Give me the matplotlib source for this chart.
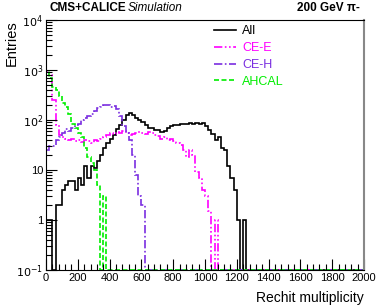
import matplotlib
matplotlib.use("Agg")
import matplotlib.pyplot as plt
import numpy as np
from matplotlib.ticker import FixedLocator, MultipleLocator, NullFormatter

plt.rcParams['font.family'] = ['Liberation Sans', 'DejaVu Sans']

# 100 bins of width 20 between 0 and 2000
edges = np.arange(0, 2001, 20)

all_hits = [1, 1, 0, 2, 2, 4, 5, 6, 6, 4,
            7, 5, 12, 7, 12, 11, 15, 20, 28, 35,
            42, 50, 65, 80, 100, 125, 135, 125, 110, 100,
            90, 80, 70, 68, 63, 62, 58, 60, 70, 75,
            78, 80, 82, 85, 82, 88, 85, 88, 85, 88,
            75, 62, 52, 40, 45, 27, 25, 12, 7, 4,
            1, 0, 1] + [0] * 37
cee_hits = [900, 800, 250, 80, 50, 45, 42, 40, 42, 38,
            40, 36, 40, 38, 35, 40, 38, 42, 45, 50,
            55, 52, 58, 55, 60, 55, 50, 52, 55, 58,
            55, 52, 58, 55, 50, 48, 42, 45, 40, 42,
            38, 35, 32, 25, 18, 25, 20, 9, 7, 4,
            3, 1.5, 0, 1] + [0] * 46
ceh_hits = [25, 30, 30, 40, 45, 55, 65, 60, 70, 80,
            85, 100, 110, 120, 130, 150, 170, 180, 195, 200,
            185, 190, 165, 120, 75, 55, 40, 20, 8, 3,
            2] + [0] * 69
ahcal_hits = [950, 700, 450, 400, 300, 220, 180, 130, 85, 70,
              55, 45, 28, 18, 14, 10, 5, 0, 3] + [0] * 81

labels = ["All", "CE-E", "CE-H", "AHCAL"]
colors = ["black", "#ff00ff", "#7a2ee0", "#00ee00"]
styles = ['-', (0, (5, 1.5, 1, 1.5, 1, 1.5)), (0, (5, 1.5, 1, 1.5)), (0, (3, 1.5))]

fig = plt.figure(figsize=(3.81, 3.07), dpi=100)
ax = fig.add_axes([46 / 381, 37 / 307, 318 / 381, 250 / 307])

for vals, lab, col, ls in zip([all_hits, cee_hits, ceh_hits, ahcal_hits], labels, colors, styles):
    v = np.maximum(np.array(vals, dtype=float), 0.1)
    ax.stairs(v, edges, color=col, lw=1.2, linestyle=ls, label=lab, baseline=0.1)

ax.set_yscale('log')
ax.set_xlim(0, 2000)
ax.set_ylim(0.1, 1e4)

ax.yaxis.set_major_locator(FixedLocator([0.1, 1, 10, 100, 1000, 10000]))
ax.set_yticklabels([r'$10^{-1}$', '1', '10', r'$10^{2}$', r'$10^{3}$', r'$10^{4}$'])
minors = [m * 10.0 ** e for e in range(-1, 4) for m in range(2, 10)]
ax.yaxis.set_minor_locator(FixedLocator(minors))
ax.yaxis.set_minor_formatter(NullFormatter())
ax.xaxis.set_major_locator(MultipleLocator(200))
ax.xaxis.set_minor_locator(MultipleLocator(40))

ax.tick_params(which='both', direction='in', labelsize=8, pad=2, top=False, right=False)
ax.tick_params(which='major', length=8, width=0.8)
ax.tick_params(which='minor', length=4, width=0.8)

ax.spines['right'].set_color('#888888')
ax.spines['right'].set_linewidth(1.5)

ax.set_xlabel("Rechit multiplicity", fontsize=10, loc='right')
ax.set_ylabel("Entries", fontsize=10.5, loc='top')
ax.yaxis.set_label_coords(-0.085, 1.0)
ax.xaxis.set_label_coords(1.0, -0.085)

leg = ax.legend(loc='upper left', bbox_to_anchor=(0.528, 0.978), frameon=False,
                fontsize=9, handlelength=1.8, handletextpad=0.45,
                labelspacing=0.38, borderpad=0, borderaxespad=0,
                labelcolor='linecolor')

fig.text(50 / 381, 1 - 8 / 307, "CMS+CALICE", fontsize=8.5, fontweight='bold', va='center', ha='left')
fig.text(128 / 381, 1 - 8 / 307, "Simulation", fontsize=8.5, style='italic', va='center', ha='left')
fig.text(360 / 381, 1 - 8 / 307, "200 GeV π-", fontsize=8.5, fontweight='bold', va='center', ha='right')

fig.savefig("out.png", dpi=100)
